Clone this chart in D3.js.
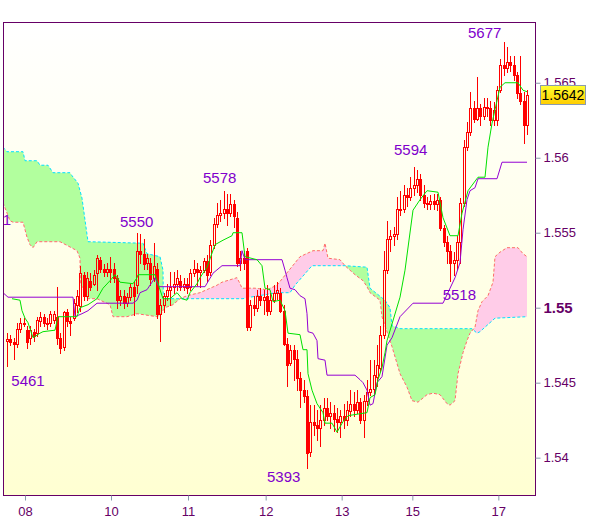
<!DOCTYPE html>
<html><head><meta charset="utf-8">
<script src="https://cdn.jsdelivr.net/npm/d3@7"></script>
<style>
html,body{margin:0;padding:0;background:#fff;}
svg{display:block;font-family:"Liberation Sans",Arial,sans-serif;}
</style></head><body>
<svg id="c" width="600" height="519"></svg>
<script>
// prices in pips: 5478 means 1.5478
const open = [
5478,5479,5477,5476,5486,5490,5485,5480,5484,5483,
5491,5494,5490,5490,5492,5494,5480,5474,5497,5491,
5493,5502,5501,5522,5508,5518,5516,5523,5532,5526,
5524,5526,5526,5520,5505,5508,5503,5507,5514,5515,
5538,5536,5530,5530,5520,5526,5496,5502,5508,5512,
5514,5516,5518,5514,5516,5514,5523,5526,5524,5525,
5531,5524,5542,5556,5562,5563,5566,5563,5569,5560,
5530,5533,5538,5487,5502,5500,5508,5505,5508,5498,
5505,5510,5510,5498,5476,5463,5472,5466,5453,5445,
5441,5404,5424,5422,5420,5425,5433,5428,5430,5426,
5424,5428,5425,5431,5436,5432,5437,5425,5438,5444,
5446,5454,5460,5482,5525,5546,5548,5549,5566,5566,
5575,5574,5580,5582,5586,5575,5570,5569,5571,5569,
5572,5553,5544,5538,5530,5532,5544,5570,5607,5617,
5633,5626,5633,5628,5634,5633,5625,5625,5645,5662,
5660,5664,5662,5655,5643,5638,5622];
const high = [
5483,5482,5480,5490,5493,5493,5488,5488,5486,5494,
5497,5496,5493,5498,5498,5514,5483,5498,5499,5494,
5506,5512,5528,5524,5524,5523,5525,5535,5534,5529,
5530,5534,5530,5522,5512,5512,5510,5516,5517,5550,
5549,5546,5536,5533,5543,5530,5506,5510,5516,5524,
5524,5525,5522,5520,5520,5526,5532,5530,5528,5533,
5535,5545,5560,5570,5572,5578,5576,5576,5572,5564,
5538,5538,5540,5505,5508,5512,5513,5512,5515,5510,
5515,5517,5513,5502,5480,5475,5475,5472,5457,5452,
5445,5435,5435,5432,5435,5440,5440,5437,5435,5433,
5432,5436,5438,5445,5444,5445,5440,5442,5452,5465,
5465,5475,5488,5538,5558,5552,5554,5574,5578,5582,
5580,5587,5594,5592,5589,5582,5574,5575,5576,5576,
5574,5555,5548,5542,5537,5548,5573,5612,5624,5644,
5638,5654,5636,5640,5640,5638,5637,5648,5666,5677,
5674,5668,5668,5657,5668,5644,5645];
const low = [
5461,5475,5466,5474,5484,5488,5473,5476,5478,5481,
5488,5488,5486,5488,5490,5476,5470,5472,5488,5482,
5492,5497,5498,5505,5505,5512,5515,5512,5524,5521,
5521,5517,5517,5500,5502,5500,5501,5505,5495,5510,
5530,5526,5526,5515,5518,5493,5478,5497,5505,5502,
5510,5512,5512,5512,5510,5512,5521,5515,5514,5524,
5518,5522,5540,5554,5558,5560,5555,5561,5554,5528,
5525,5526,5485,5485,5495,5498,5502,5496,5495,5496,
5504,5506,5497,5475,5448,5462,5452,5445,5434,5437,
5393,5401,5415,5412,5408,5422,5425,5420,5418,5417,
5414,5420,5422,5428,5428,5430,5423,5414,5435,5442,
5442,5448,5458,5480,5523,5538,5542,5546,5562,5564,
5568,5572,5575,5577,5572,5567,5566,5566,5566,5565,
5552,5541,5530,5518,5522,5526,5530,5568,5605,5615,
5624,5625,5622,5626,5628,5622,5622,5622,5644,5655,
5657,5658,5652,5640,5636,5610,5616];
const close = [
5479,5477,5476,5486,5490,5489,5477,5485,5481,5492,
5494,5490,5489,5496,5496,5480,5473,5497,5491,5490,
5503,5508,5523,5508,5520,5514,5522,5533,5526,5524,
5526,5524,5520,5505,5508,5503,5507,5514,5508,5538,
5536,5529,5533,5519,5528,5496,5502,5508,5512,5514,
5516,5520,5514,5516,5513,5523,5526,5524,5525,5531,
5522,5542,5556,5562,5563,5566,5563,5569,5561,5530,
5533,5530,5487,5502,5500,5508,5505,5507,5498,5505,
5510,5512,5498,5476,5462,5472,5466,5453,5445,5441,
5403,5424,5422,5420,5425,5433,5428,5430,5426,5424,
5428,5425,5432,5436,5432,5437,5425,5438,5444,5446,
5455,5462,5482,5525,5546,5548,5549,5566,5565,5575,
5574,5580,5582,5586,5575,5570,5569,5571,5569,5572,
5553,5544,5538,5530,5532,5544,5570,5607,5617,5633,
5626,5633,5628,5634,5633,5625,5632,5645,5662,5660,
5664,5662,5655,5643,5638,5622,5642];

// indicator lines: [bar index, pips]
const tenkan = [[1.5,5506],[3.9,5505],[4.5,5498],[5.4,5493],[6.3,5490],[7.8,5480],[9.9,5483],[10.8,5484],[14.4,5485],[15.3,5494],[21,5494],[21.9,5500],[24.3,5502],[27,5506],[28.8,5513],[30.9,5518],[32.4,5522],[33.9,5517],[37.8,5516],[39,5520],[39.3,5522],[44.4,5522],[45,5518],[46.8,5506],[48.9,5506],[51,5510],[52.5,5506],[54,5505],[54.9,5510],[57,5516],[57.9,5520],[60,5527],[62.4,5542],[64.8,5545],[67.5,5548],[67.8,5550],[70.5,5550],[71.4,5534],[75,5532],[76.5,5528],[77.4,5513],[78.9,5512],[79.8,5504],[81.9,5505],[83.4,5498],[84.3,5483],[87.9,5482],[88.8,5472],[90,5472],[90.3,5456],[91.5,5445],[93,5436],[94.8,5430],[95.4,5423],[97.5,5423],[99,5417],[100.8,5424],[102.3,5428],[108,5430],[108.9,5440],[110.4,5442],[111.3,5452],[112.5,5460],[113.4,5470],[114,5478],[117.9,5507],[119.4,5525],[121.8,5565],[123.9,5572],[126,5578],[129.3,5577],[130.8,5560],[132.9,5548],[135.3,5548],[136.5,5563],[138.3,5578],[141.3,5587],[143.4,5587],[144.3,5607],[145.5,5623],[147,5638],[147.9,5647],[149.4,5650],[153.3,5650],[154.8,5645],[156,5644]];
const kijun = [[-1.2,5510],[0.3,5507],[19.8,5507],[20.4,5494],[22.5,5496],[24.3,5498],[27,5503],[37.8,5503],[39,5505],[39.9,5510],[42,5512],[43.5,5517],[44.4,5520],[45.3,5515],[45.9,5514],[59.4,5514],[61.8,5523],[64.5,5528],[69.9,5528],[70.5,5538],[71.4,5532],[82.5,5532],[83.4,5525],[84,5520],[84.9,5513],[86.4,5512],[87.9,5508],[89.4,5506],[90,5496],[90.3,5484],[91.8,5483],[93,5478],[93.3,5466],[95.4,5465],[96,5455],[104.4,5455],[105.9,5452],[106.8,5450],[108,5445],[108.9,5435],[109.8,5436],[111,5450],[112.5,5454],[114,5475],[115.5,5480],[117.9,5494],[121.8,5503],[130.8,5503],[134.4,5520],[135.9,5530],[136.8,5552],[138,5572],[138.9,5578],[140.4,5580],[141.3,5586],[147,5586],[148.5,5597],[156,5597]];
const spanA = [[-1.2,5607],[0,5604],[4.8,5604],[5.4,5598],[9,5598],[9.9,5595],[12.3,5595],[13.8,5590],[18.9,5590],[19.5,5588],[21.3,5583],[22.5,5573],[24.3,5544],[40.8,5543],[42,5536],[45.9,5534],[46.8,5525],[46.9,5506],[70.8,5506],[72.9,5507],[81,5510],[84.9,5510],[86.4,5515],[91.5,5528],[101.4,5528],[108,5527],[108.9,5513],[113.4,5505],[114.9,5500],[115.5,5488],[117.9,5486],[139.5,5486],[141,5483],[141.9,5484],[146.4,5493],[156,5494]];
const spanB = [[-1.2,5570],[0.9,5558],[1.8,5557],[4.8,5557],[6,5547],[6.9,5542],[7.8,5540],[9,5544],[15.9,5544],[21,5538],[21.9,5533],[22,5516],[22.5,5514],[24,5506],[27,5506],[27.9,5505],[30.9,5502],[31.8,5494],[36,5494],[39,5496],[45,5494],[45.9,5495],[47.4,5500],[49.8,5502],[51.9,5506],[54,5508],[57.9,5510],[63,5515],[64.5,5517],[69,5520],[69.9,5516],[70.5,5513],[74.4,5513],[78,5512],[81,5515],[87.9,5534],[91.8,5538],[94.8,5538],[95.4,5543],[96.3,5533],[99.9,5532],[101.4,5528],[104.4,5522],[106.8,5518],[108,5514],[108.9,5510],[111.9,5505],[112.5,5494],[115.5,5474],[117.9,5456],[120,5447],[121.5,5438],[123.3,5437],[126,5442],[127.8,5443],[129.9,5442],[132,5436],[132.9,5435],[134.4,5438],[135.3,5456],[136.8,5470],[138,5478],[138.9,5483],[140.4,5487],[141.3,5498],[142.5,5504],[144.3,5508],[145.8,5517],[146.4,5534],[147.9,5537],[150,5540],[153.3,5540],[154.8,5536],[156,5534]];

// high/low annotations
const annText  = ["5551","5461","5550","5578","5393","5594","5518","5677"];
const annIdx   = [-3.75, 6.3, 38.9, 63.8, 83, 121.1, 135.7, 143.3];
const annLevel = [5555, 5448, 5554, 5583, 5384, 5602, 5505, 5680];

// axes
const xTickIdx = [5.4, 31.2, 54.3, 77.6, 100.4, 121.6, 147.4];
const xTickLabels = ["08","10","11","12","13","15","17"];
const yTicks = [1.54, 1.545, 1.55, 1.555, 1.56, 1.565];
const yTickLabels = ["1.54","1.545","1.55","1.555","1.56","1.565"];

const P = v => 1 + v/10000;
const svg = d3.select("#c");
const L = 3, R = 535, T = 22, B = 495;
const x = d3.scaleLinear().domain([-1.2, 158.4]).range([L, R]);
const y = d3.scaleLinear().domain([1.53751, 1.56905]).range([B, T]);

const defs = svg.append("defs");
const bg = defs.append("linearGradient").attr("id","bg").attr("gradientUnits","userSpaceOnUse")
  .attr("x1",0).attr("y1",T).attr("x2",0).attr("y2",B);
bg.append("stop").attr("offset","0").attr("stop-color","#ffffff");
bg.append("stop").attr("offset","1").attr("stop-color","#ffffd2");
const yb = defs.append("linearGradient").attr("id","yb").attr("x1",0).attr("y1",0).attr("x2",0).attr("y2",1);
yb.append("stop").attr("offset","0").attr("stop-color","#ffff30");
yb.append("stop").attr("offset","1").attr("stop-color","#ffcc00");
defs.append("clipPath").attr("id","plot").append("rect")
  .attr("x",L+0.5).attr("y",T+0.5).attr("width",R-L).attr("height",B-T);

const pt = d => [x(d[0]), y(P(d[1]))];
const A = spanA.map(pt), Bp = spanB.map(pt);
const poly = pts => "M" + pts.map(p => p[0].toFixed(2)+","+p[1].toFixed(2)).join("L") + "Z";
defs.append("clipPath").attr("id","aboveB").append("path")
  .attr("d", poly([[Bp[0][0], 0], ...Bp, [Bp[Bp.length-1][0], 0]]));
defs.append("clipPath").attr("id","belowB").append("path")
  .attr("d", poly([[Bp[0][0], 600], ...Bp, [Bp[Bp.length-1][0], 600]]));

svg.append("rect").attr("x",L).attr("y",T).attr("width",R-L).attr("height",B-T).attr("fill","url(#bg)");

const g = svg.append("g").attr("clip-path","url(#plot)");
const cloudD = poly([...A, ...Bp.slice().reverse()]);
g.append("g").attr("clip-path","url(#aboveB)").append("path").attr("d",cloudD).attr("fill","#b2ff9e");
g.append("g").attr("clip-path","url(#belowB)").append("path").attr("d",cloudD).attr("fill","#ffcce8");

const line = d3.line().x(d => x(d[0])).y(d => y(P(d[1])));
g.append("path").attr("d", line(spanB)).attr("fill","none").attr("stroke","#ff6a6a").attr("stroke-width",1).attr("stroke-dasharray","3,2");
g.append("path").attr("d", line(spanA)).attr("fill","none").attr("stroke","#00e0ff").attr("stroke-width",1).attr("stroke-dasharray","3,2");

// candles
const cg = g.append("g").attr("shape-rendering","crispEdges");
open.forEach((o, i) => {
  const c = close[i], h = high[i], l = low[i];
  const cx = Math.round(x(i));
  const yT = Math.round(y(P(Math.max(o,c))));
  let yBt = Math.round(y(P(Math.min(o,c))));
  if (yBt <= yT) yBt = yT + 1;
  const yH = Math.round(y(P(h))), yL = Math.round(y(P(l)));
  if (yH < yT) cg.append("line").attr("x1",cx+0.5).attr("x2",cx+0.5).attr("y1",yH).attr("y2",yT).attr("stroke","#ff0000");
  if (yL > yBt) cg.append("line").attr("x1",cx+0.5).attr("x2",cx+0.5).attr("y1",yBt+1).attr("y2",yL+1).attr("stroke","#ff0000");
  cg.append("rect").attr("x",cx-0.5).attr("y",yT+0.5).attr("width",2).attr("height",yBt-yT)
    .attr("fill", c < o ? "#ff0000" : "none").attr("stroke","#ff0000").attr("stroke-width",1);
});

g.append("path").attr("d", line(kijun)).attr("fill","none").attr("stroke","#9400d3").attr("stroke-width",1);
g.append("path").attr("d", line(tenkan)).attr("fill","none").attr("stroke","#00e000").attr("stroke-width",1);

// annotations
g.selectAll("text.ann").data(annText).join("text").attr("class","ann")
  .attr("x",(d,i)=>x(annIdx[i])).attr("y",(d,i)=>y(P(annLevel[i])))
  .attr("text-anchor","middle").attr("font-size",15).attr("fill","#8000cc").text(d=>d);

// frame
svg.append("rect").attr("x",L+0.5).attr("y",T+0.5).attr("width",R-L).attr("height",B-T)
  .attr("fill","none").attr("stroke","#660066").attr("stroke-width",1);

// axes
const ya = svg.append("g").attr("transform",`translate(${R+0.5},0)`)
  .call(d3.axisRight(y).tickValues(yTicks).tickSize(5).tickPadding(3).tickFormat((d,i)=>yTickLabels[i]));
ya.select(".domain").remove();
ya.selectAll(".tick line").attr("stroke","#8899aa");
ya.selectAll(".tick text").attr("fill","#660066").attr("font-size",13).attr("font-family",null)
  .attr("font-weight",(d,i)=>yTickLabels[i]==="1.55"?"bold":null)
  .attr("font-size",(d,i)=>yTickLabels[i]==="1.55"?15:13);

const xa = svg.append("g").attr("transform",`translate(0,${B+0.5})`)
  .call(d3.axisBottom(x).tickValues(xTickIdx).tickSize(5).tickPadding(6).tickFormat((d,i)=>xTickLabels[i]));
xa.select(".domain").remove();
xa.selectAll(".tick line").attr("stroke","#8899aa");
xa.selectAll(".tick text").attr("fill","#660066").attr("font-size",13).attr("font-family",null);

// last price box
const last = P(close[close.length-1]);
const yl = y(last);
svg.append("rect").attr("x",R+5.5).attr("y",Math.round(yl)-9.5).attr("width",45).attr("height",19)
  .attr("fill","url(#yb)").attr("stroke","#8a9bb0");
svg.append("text").attr("x",R+28).attr("y",yl+5).attr("text-anchor","middle")
  .attr("font-size",14).attr("fill","#000").text(last.toFixed(4));
</script>
</body></html>
